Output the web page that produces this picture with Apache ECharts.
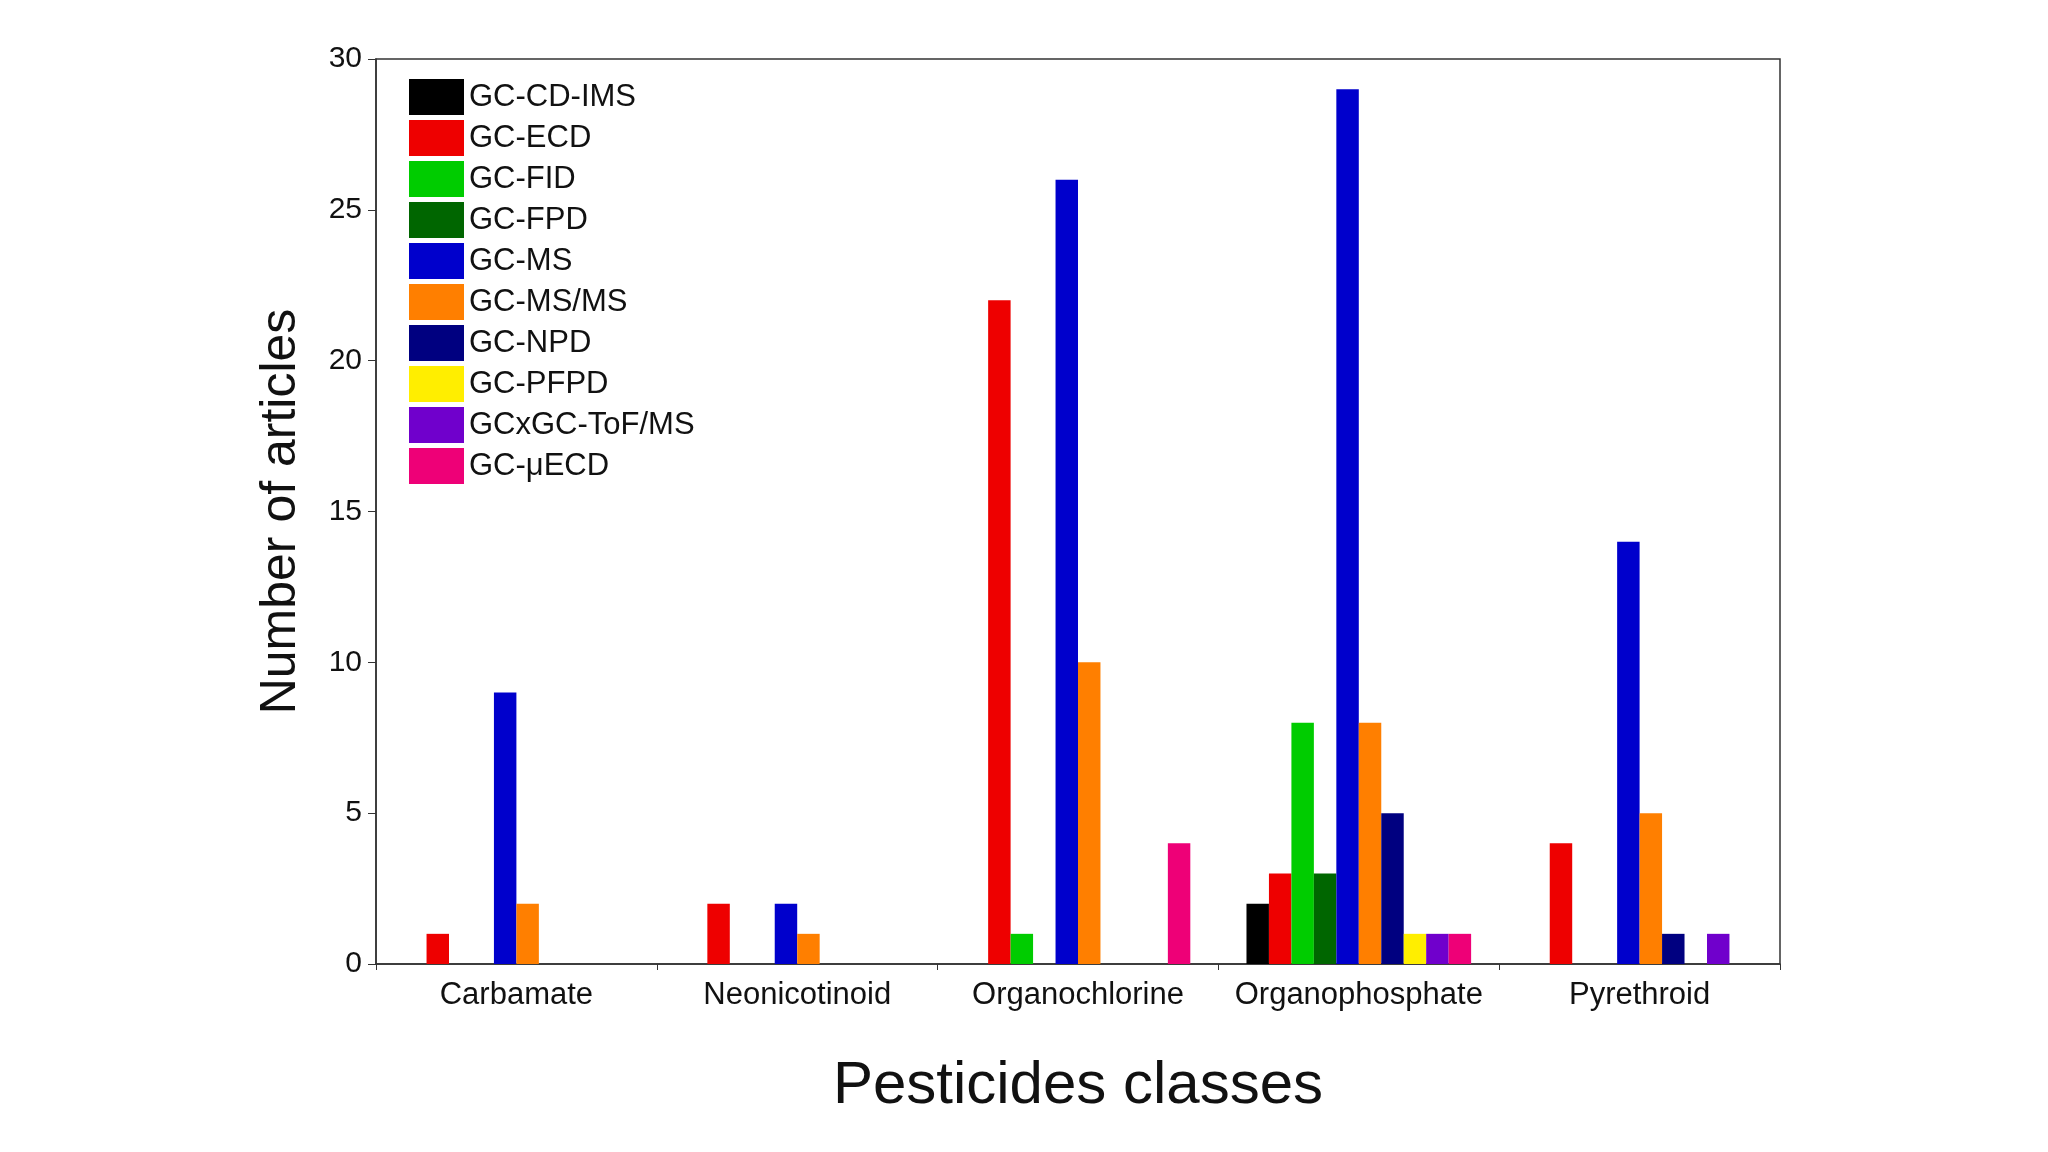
<!DOCTYPE html>
<html><head><meta charset="utf-8">
<script src="https://cdn.jsdelivr.net/npm/echarts@6/dist/echarts.min.js"></script>
<style>html,body{margin:0;background:#fff}#c{width:2048px;height:1152px}</style>
</head><body><div id="c"></div>
<script>
const categories = ['Carbamate','Neonicotinoid','Organochlorine','Organophosphate','Pyrethroid'];
const seriesNames = ['GC-CD-IMS','GC-ECD','GC-FID','GC-FPD','GC-MS','GC-MS/MS','GC-NPD','GC-PFPD','GCxGC-ToF/MS','GC-μECD'];
const colors = ['#000000','#ee0000','#00cc00','#006600','#0000cc','#ff7f00','#000080','#ffee00','#7000cc','#ee0077'];
const gcCdIms = [0,0,0,2,0];
const gcEcd = [1,2,22,3,4];
const gcFid = [0,0,1,8,0];
const gcFpd = [0,0,0,3,0];
const gcMs = [9,2,26,29,14];
const gcMsMs = [2,1,10,8,5];
const gcNpd = [0,0,0,5,1];
const gcPfpd = [0,0,0,1,0];
const gcxgcTof = [0,0,0,1,1];
const gcMuEcd = [0,0,4,1,0];
const yTicks = [0,5,10,15,20,25,30];
const allData = [gcCdIms,gcEcd,gcFid,gcFpd,gcMs,gcMsMs,gcNpd,gcPfpd,gcxgcTof,gcMuEcd];
const font = 'Arial, Liberation Sans, sans-serif';
const chart = echarts.init(document.getElementById('c'));
chart.setOption({
  animation:false,
  color: colors,
  grid:{left:376,right:268,top:59,bottom:188,show:true,borderColor:'#333',borderWidth:1.5},
  legend:{orient:'vertical',left:404,top:74,itemWidth:55,itemHeight:36,itemGap:5,
    textStyle:{fontSize:31,fontFamily:font,color:'#111'},icon:'rect',data:seriesNames},
  xAxis:{type:'category',data:categories,
    axisLine:{lineStyle:{color:'#333',width:1.5}},
    axisTick:{show:true,alignWithLabel:false,interval:0,length:6,lineStyle:{color:'#333'}},
    axisLabel:{fontSize:31,fontFamily:font,color:'#111',margin:16,interval:0},
    name:'Pesticides classes',nameLocation:'middle',nameGap:92,
    nameTextStyle:{fontSize:60,fontFamily:font,color:'#111'}},
  yAxis:{type:'value',min:0,max:30,interval:5,
    axisLine:{show:true,lineStyle:{color:'#333',width:1.5}},
    axisTick:{show:true,length:8,lineStyle:{color:'#333'}},
    splitLine:{show:false},
    axisLabel:{fontSize:30,fontFamily:font,color:'#111',margin:14},
    name:'Number of articles',nameLocation:'middle',nameGap:70,
    nameTextStyle:{fontSize:50,fontFamily:font,color:'#111'}},
  series: seriesNames.map((n,i)=>({name:n,type:'bar',data:allData[i].map(v=>v===0?'-':v),
    barGap:'0%',barCategoryGap:'20%'}))
});
</script></body></html>
